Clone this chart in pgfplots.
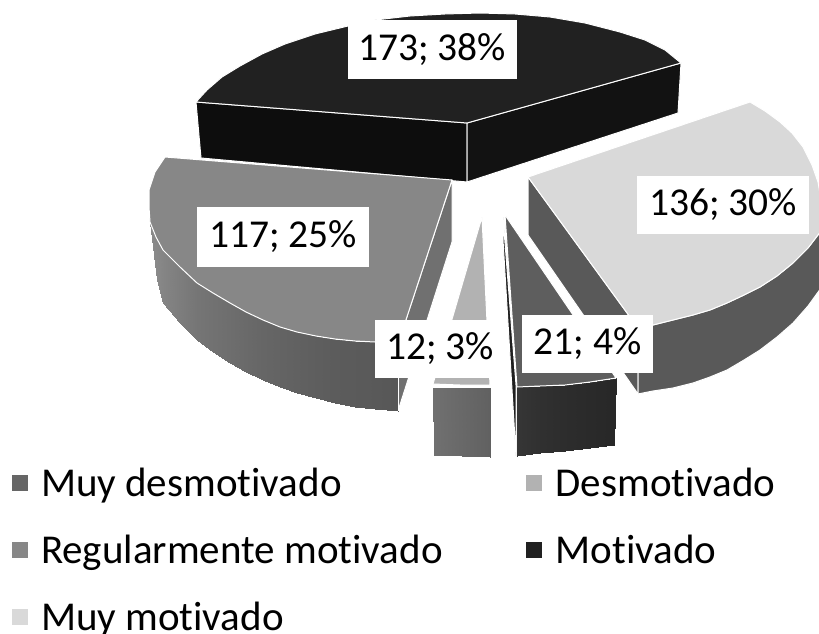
\documentclass[border=0pt]{standalone}
\usepackage{fontspec}
\setmainfont{Carlito}[Ligatures=NoCommon]
\usepackage{pgfplots}
\pgfplotsset{compat=1.18}
\newcommand{\face}[2]{\addplot[fill=#1,draw=white,line width=1pt,line join=round,forget plot] coordinates {#2} --cycle;}
\newcommand{\wall}[1]{\addplot[patch,patch type=rectangle,shader=interp,point meta=explicit,forget plot] coordinates {#1};}
\newcommand{\lab}[5]{\node[fill=white,inner sep=0pt,minimum width=#3,minimum height=#4,text=black,font=\fontsize{39.5}{42}\selectfont] at (axis cs:#1,#2) {\raisebox{-2pt}{#5}};}
\begin{document}
\begin{tikzpicture}
\useasboundingbox (0,0) rectangle (819pt,634pt);
\begin{axis}[
  at={(0,0)},anchor=south west,
  scale only axis, width=819pt, height=634pt,
  xmin=0, xmax=819, ymin=0, ymax=634, y dir=reverse,
  hide axis, clip=true,
  colormap={gr}{gray(0cm)=(0); gray(1cm)=(1)},
  point meta min=0, point meta max=1,
  legend columns=2,
  legend style={at={(axis cs:12,466)},anchor=north west,draw=none,fill=none,inner sep=0pt,outer sep=0pt,
    font=\fontsize{41}{43}\selectfont,row sep=33pt,
    /tikz/column 1/.style={column sep=11pt},
    /tikz/column 2/.style={column sep=81pt},
    /tikz/column 3/.style={column sep=12pt}},
  legend cell align=left,
  legend image code/.code={\fill[#1] (0pt,-8pt) rectangle (16pt,8pt);},
]
\addlegendimage{draw=none,fill=black!60}\addlegendentry{Muy desmotivado}
\addlegendimage{draw=none,fill=black!30}\addlegendentry{Desmotivado}
\addlegendimage{draw=none,fill=black!47}\addlegendentry{Regularmente motivado}
\addlegendimage{draw=none,fill=black!87}\addlegendentry{Motivado}
\addlegendimage{draw=none,fill=black!15}\addlegendentry{Muy motivado}
% Motivado
\face{black!95}{(196,102)(467,123)(467,182)(201,158)}
\face{black!93}{(467,123)(681,63)(678,113)(467,182)}
\face{black!87}{(196,102)(207,90)(222,77)(240,66)(262,54)(285,44)(315,34)(348,26)(375,20)(410,16)(445,14)(480,13)(515,14)(550,17)(585,23)(620,32)(645,40)(665,50)(681,63)(467,123)}
% Muy motivado
\face{black!65}{(528,177)(638,328)(638,394)(528,235)}
\face{black!65}{(638,328)(653,325)(673,320)(693,315)(710,310)(727,303)(744,295)(760,287)(777,276)(793,263)(808,248)(821,231)(821,288)(808,306)(793,323)(777,337)(760,350)(744,360)(727,370)(710,377)(693,383)(673,388)(653,391)(638,394)}
\face{black!15}{(528,177)(750,102)(765,111)(780,122)(792,133)(803,147)(812,165)(818,182)(821,200)(821,218)(821,231)(808,248)(793,263)(777,276)(760,287)(744,295)(727,303)(710,310)(693,315)(673,320)(653,325)(638,328)}
% Regularmente motivado
\face{black!56}{(452,180)(398,344)(398,411)(452,242)}
\wall{(150,222) [0.54] (163,250) [0.52] (163,303) [0.52] (157,280) [0.54]
(163,250) [0.52] (180,267) [0.49] (180,323) [0.49] (163,303) [0.52]
(180,267) [0.49] (197,283) [0.46] (197,340) [0.46] (180,323) [0.49]
(197,283) [0.46] (213,293) [0.445] (213,352) [0.445] (197,340) [0.46]
(213,293) [0.445] (230,303) [0.43] (230,363) [0.43] (213,352) [0.445]
(230,303) [0.43] (246,312) [0.415] (246,372) [0.415] (230,363) [0.43]
(246,312) [0.415] (263,320) [0.40] (263,380) [0.40] (246,372) [0.415]
(263,320) [0.40] (280,327) [0.39] (280,387) [0.39] (263,380) [0.40]
(280,327) [0.39] (297,332) [0.38] (297,393) [0.38] (280,387) [0.39]
(297,332) [0.38] (316,336) [0.37] (316,398) [0.37] (297,393) [0.38]
(316,336) [0.37] (335,339) [0.36] (335,403) [0.36] (316,398) [0.37]
(335,339) [0.36] (355,341) [0.355] (355,407) [0.355] (335,403) [0.36]
(355,341) [0.355] (375,342) [0.35] (375,409) [0.35] (355,407) [0.355]
(375,342) [0.35] (398,344) [0.34] (398,411) [0.34] (375,409) [0.35]}
\addplot[draw=white,line width=1pt,forget plot] coordinates {(398,344)(398,411)};
\face{black!47}{(165,157)(155,172)(149,190)(149,207)(150,222)(156,237)(163,250)(180,267)(197,283)(213,293)(230,303)(246,312)(263,320)(280,327)(297,332)(316,336)(335,339)(355,341)(375,342)(398,344)(452,180)}
% Desmotivado
\wall{(433,388) [0.44] (490,388) [0.38] (490,457) [0.38] (434,455) [0.44]}
\face{black!30}{(482,217)(433,384)(460,385)(490,385)}
% Muy desmotivado
\face{black!88}{(503,217)(516,385)(516,456)(503,240)}
\wall{(517,387) [0.21] (540,386) [0.19] (540,453) [0.19] (517,456) [0.21]
(540,386) [0.19] (565,385) [0.175] (565,451) [0.175] (540,453) [0.19]
(565,385) [0.175] (590,382) [0.165] (590,448) [0.165] (565,451) [0.175]
(590,382) [0.165] (616,378) [0.155] (614,445) [0.155] (590,448) [0.165]}
\face{black!63}{(505,215)(616,378)(590,382)(565,385)(540,386)(517,387)}
% labels
\lab{432}{50}{169pt}{59pt}{173; 38\%}
\lab{723}{205}{172pt}{58pt}{136; 30\%}
\lab{283}{237}{172pt}{60pt}{117; 25\%}
\lab{440}{349}{130pt}{58pt}{12; 3\%}
\lab{587.5}{344}{131pt}{58pt}{21; 4\%}
\end{axis}
\end{tikzpicture}
\end{document}
